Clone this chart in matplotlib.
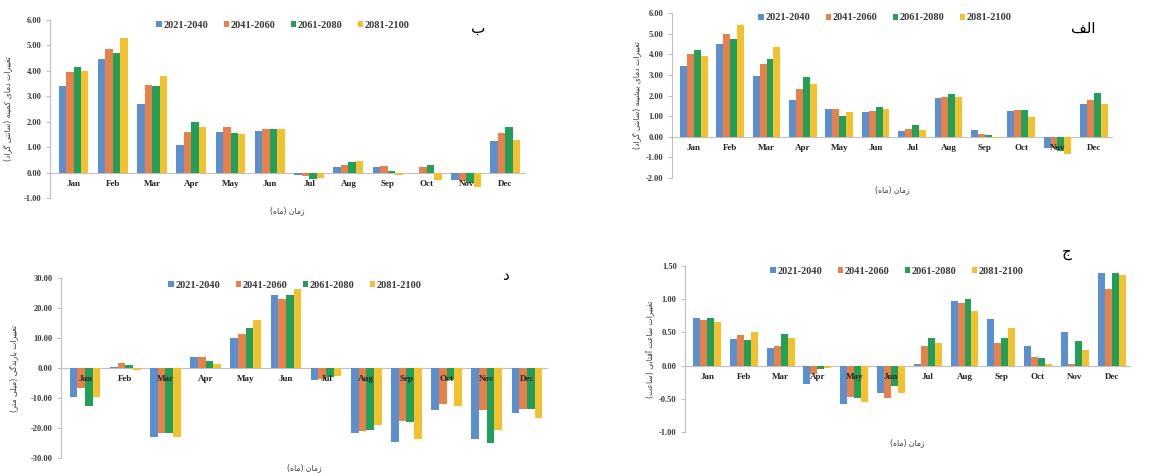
import unicodedata
import numpy as np
import matplotlib
matplotlib.use("Agg")
import matplotlib.pyplot as plt
from matplotlib.patches import Patch

# ---------------- data ----------------
months = ["Jan", "Feb", "Mar", "Apr", "May", "Jun", "Jul", "Aug", "Sep", "Oct", "Nov", "Dec"]
periods = ["2021-2040", "2041-2060", "2061-2080", "2081-2100"]

# (alef) maximum temperature change
tmax_2021 = [3.45, 4.50, 2.95, 1.80, 1.35, 1.20, 0.30, 1.90, 0.35, 1.25, -0.55, 1.60]
tmax_2041 = [4.00, 5.00, 3.55, 2.30, 1.35, 1.25, 0.40, 1.95, 0.15, 1.30, -0.55, 1.80]
tmax_2061 = [4.20, 4.75, 3.75, 2.90, 1.00, 1.45, 0.55, 2.05, 0.10, 1.30, -0.70, 2.10]
tmax_2081 = [3.90, 5.40, 4.35, 2.55, 1.20, 1.35, 0.35, 1.95, -0.05, 0.95, -0.85, 1.60]

# (be) minimum temperature change
tmin_2021 = [3.40, 4.45, 2.70, 1.10, 1.60, 1.65, -0.10, 0.20, 0.20, 0.00, -0.30, 1.25]
tmin_2041 = [3.95, 4.85, 3.45, 1.60, 1.80, 1.70, -0.15, 0.30, 0.25, 0.20, -0.35, 1.55]
tmin_2061 = [4.15, 4.70, 3.40, 2.00, 1.55, 1.70, -0.25, 0.40, 0.05, 0.30, -0.40, 1.80]
tmin_2081 = [4.00, 5.30, 3.80, 1.80, 1.50, 1.70, -0.20, 0.45, -0.10, -0.30, -0.55, 1.30]

# (jim) sunshine hours change
sun_2021 = [0.72, 0.40, 0.27, -0.27, -0.58, -0.42, 0.02, 0.97, 0.70, 0.30, 0.51, 1.40]
sun_2041 = [0.69, 0.46, 0.30, -0.12, -0.47, -0.49, 0.30, 0.95, 0.34, 0.13, 0.02, 1.15]
sun_2061 = [0.71, 0.39, 0.48, -0.05, -0.49, -0.30, 0.42, 1.00, 0.42, 0.11, 0.37, 1.40]
sun_2081 = [0.66, 0.51, 0.41, -0.03, -0.55, -0.42, 0.34, 0.82, 0.57, 0.02, 0.24, 1.37]

# (dal) rainfall change
rain_2021 = [-9.5, 0.3, -23.0, 3.8, 10.0, 24.5, -4.0, -21.5, -24.5, -14.0, -23.5, -15.0]
rain_2041 = [-6.5, 1.6, -21.5, 3.8, 11.5, 23.0, -3.5, -21.0, -17.5, -12.0, -14.0, -13.5]
rain_2061 = [-12.5, 1.0, -21.5, 2.5, 13.5, 24.5, -3.0, -20.5, -18.0, -4.0, -25.0, -13.5]
rain_2081 = [-9.5, -0.5, -23.0, 1.5, 16.0, 26.5, -2.5, -19.0, -23.5, -12.5, -20.5, -16.5]

colors = ["#5B8FCD", "#E8804A", "#22A05A", "#F3C02E"]

# ---------------- helpers ----------------
RIGHT_ONLY = set("اآأإدذرزژوؤة")


def _is_letter(c):
    if c is None:
        return False
    try:
        return unicodedata.name(c).startswith("ARABIC LETTER")
    except ValueError:
        return False


def shape(s):
    """Contextual shaping + visual reordering for Persian text."""
    out = []
    for i, c in enumerate(s):
        if not _is_letter(c):
            out.append(c)
            continue
        prev = s[i - 1] if i > 0 else None
        nxt = s[i + 1] if i + 1 < len(s) else None
        jp = _is_letter(prev) and prev not in RIGHT_ONLY
        jn = _is_letter(nxt) and c not in RIGHT_ONLY
        form = "MEDIAL" if (jp and jn) else "FINAL" if jp else "INITIAL" if jn else "ISOLATED"
        name = unicodedata.name(c)
        ch = c
        for f in (form, "FINAL" if form == "MEDIAL" else None, "ISOLATED"):
            if f is None:
                continue
            try:
                ch = unicodedata.lookup(f"{name} {f} FORM")
                break
            except KeyError:
                pass
        out.append(ch)
    res = "".join(reversed(out))
    return res.translate(str.maketrans("()", ")("))


W, H = 1169, 473


def rect(l, t, r, b):
    return [l / W, 1 - b / H, (r - l) / W, (b - t) / H]


SERIF = ["Liberation Serif", "DejaVu Serif"]
AR = ["DejaVu Sans"]
GRAY = "#BFBFBF"
TXT = "#3A3A3A"

fig = plt.figure(figsize=(W / 100, H / 100), dpi=100)
fig.patch.set_facecolor("white")


def panel(box, series, ylim, step, ylabel, letter, letter_xy, legend_xy, ylabel_x, xlabel_y):
    ax = fig.add_axes(rect(*box))
    x = np.arange(len(months))
    bw = 0.19
    for k, vals in enumerate(series):
        ax.bar(x + (k - 1.5) * bw, vals, width=bw, color=colors[k], zorder=1)
    ax.set_xlim(-0.6, 11.5)
    ax.set_ylim(*ylim)
    ax.set_yticks(np.arange(ylim[0], ylim[1] + step / 2, step))
    ax.yaxis.set_major_formatter(matplotlib.ticker.FormatStrFormatter("%.2f"))
    for sp in ("top", "right"):
        ax.spines[sp].set_visible(False)
    ax.spines["bottom"].set_position(("data", 0))
    ax.spines["bottom"].set_color(GRAY)
    ax.spines["left"].set_color(GRAY)
    ax.spines["bottom"].set_zorder(0.5)
    ax.set_xticks(x)
    ax.set_xticklabels(months)
    ax.tick_params(axis="x", length=0, pad=5)
    ax.tick_params(axis="y", length=3, color=GRAY, pad=3, direction="out")
    for lab in ax.get_xticklabels():
        lab.set_fontfamily(SERIF)
        lab.set_fontweight("bold")
        lab.set_fontsize(6.5)
        lab.set_color("#222222")
    for lab in ax.get_yticklabels():
        lab.set_fontfamily(SERIF)
        lab.set_fontweight("bold")
        lab.set_fontsize(6)
        lab.set_color(TXT)
    ax.set_facecolor("white")

    # y label
    yc = (box[1] + box[3]) / 2
    fig.text(ylabel_x / W, 1 - yc / H, shape(ylabel), rotation=90, ha="center", va="center",
             fontsize=5.5, family=AR, color=TXT)
    # x label
    xc = (box[0] + box[2]) / 2
    fig.text(xc / W, 1 - xlabel_y / H, shape("زمان (ماه)"), ha="center", va="center",
             fontsize=5.5, family=AR, color=TXT)
    # panel letter
    fig.text(letter_xy[0] / W, 1 - letter_xy[1] / H, shape(letter), ha="center", va="center",
             fontsize=11, family=AR, color="black")
    # legend
    handles = [Patch(facecolor=c, edgecolor="none") for c in colors]
    fig.legend(handles, periods, loc="center", bbox_to_anchor=(legend_xy[0] / W, 1 - legend_xy[1] / H),
               ncol=4, frameon=False, handlelength=0.5, handleheight=0.5, handletextpad=0.15,
               columnspacing=1.5, prop={"family": SERIF, "weight": "bold", "size": 7.5},
               labelcolor=TXT)
    return ax


panel((50, 20, 525, 198), [tmin_2021, tmin_2041, tmin_2061, tmin_2081], (-1, 6), 1,
      "تغییرات دمای کمینه (سانتی گراد)", "ب", (478, 28), (283, 25), 9, 211)
panel((672, 13, 1112, 178), [tmax_2021, tmax_2041, tmax_2061, tmax_2081], (-2, 6), 1,
      "تغییرات دمای بیشینه (سانتی گراد)", "الف", (1083, 28), (885, 18), 638, 190)
panel((61, 278, 547, 458), [rain_2021, rain_2041, rain_2061, rain_2081], (-30, 30), 10,
      "تغییرات بارندگی (میلی متر)", "د", (505, 275), (295, 285), 15, 468)
panel((685, 266, 1130, 432), [sun_2021, sun_2041, sun_2061, sun_2081], (-1, 1.5), 0.5,
      "تغییرات ساعت آفتابی (ساعت)", "ج", (1067, 252), (897, 271), 650, 443)

fig.savefig("out.png", dpi=100, facecolor="white")
